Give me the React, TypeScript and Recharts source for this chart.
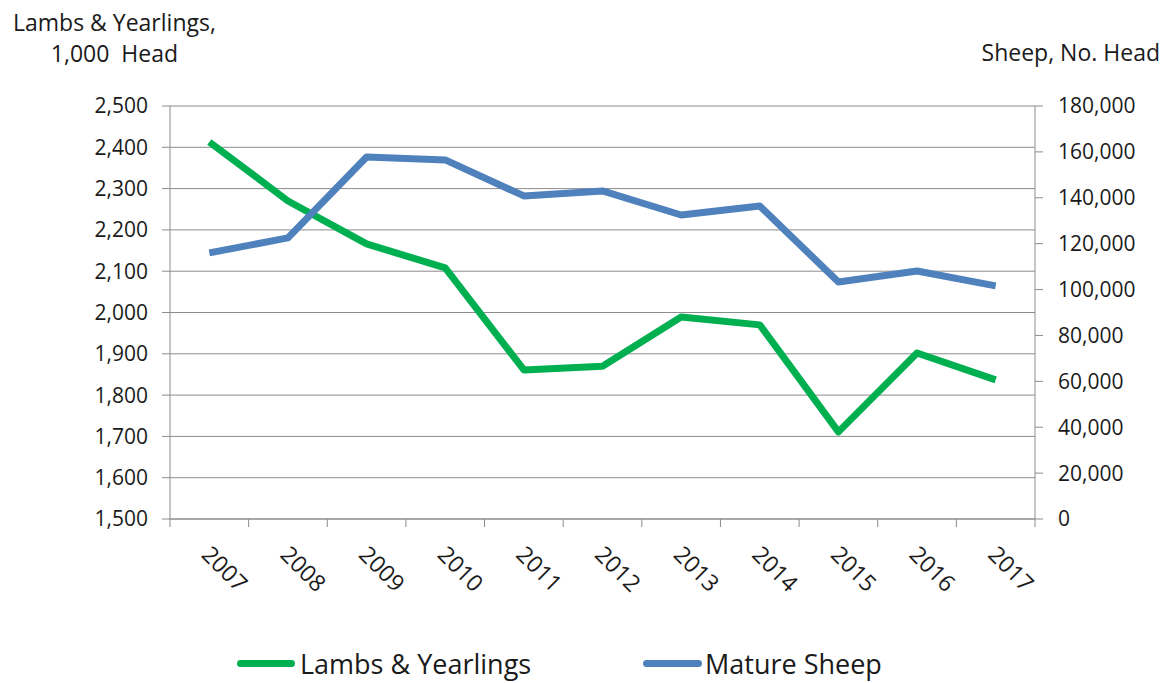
import { CartesianGrid, Line, LineChart, XAxis, YAxis } from "recharts";

const years = ["2007", "2008", "2009", "2010", "2011", "2012", "2013", "2014", "2015", "2016", "2017"];
const lambs = [2413, 2270, 2166, 2108, 1861, 1870, 1989, 1970, 1711, 1902, 1837];
const mature = [116000, 122500, 157800, 156500, 140800, 143000, 132500, 136400, 103300, 108100, 101600];

const leftTicks = [1500, 1600, 1700, 1800, 1900, 2000, 2100, 2200, 2300, 2400, 2500];
const rightTicks = [0, 20000, 40000, 60000, 80000, 100000, 120000, 140000, 160000, 180000];

const data = years.map((year, i) => ({ year, lambs: lambs[i], mature: mature[i] }));

const W = 1163;
const H = 683;
const PLOT_LEFT = 170;
const PLOT_RIGHT = 1035;
const BAND = (PLOT_RIGHT - PLOT_LEFT) / years.length;

const GREEN = "#00B050";
const BLUE = "#4F81BD";
const AXIS = "#8c8c8c";
const INK = "#1a1a1a";
const FONT = "'Open Sans', 'Noto Sans', sans-serif";

const fmt = (v: number) => v.toLocaleString("en-US");

function YearTick(props: any) {
  const { x, y, payload, index } = props;
  const half = BAND / 2;
  const tx = x - 9;
  const ty = y + 37;
  return (
    <g>
      <line x1={x - half} x2={x - half} y1={y} y2={y + 8} stroke={AXIS} />
      {index === years.length - 1 && <line x1={x + half} x2={x + half} y1={y} y2={y + 8} stroke={AXIS} />}
      <text x={tx} y={ty} transform={`rotate(45 ${tx} ${ty})`} textAnchor="start" fill={INK} fontSize={23} fontFamily={FONT}>
        {payload.value}
      </text>
    </g>
  );
}

export default function App() {
  const tickStyle = { fill: INK, fontSize: 21, fontFamily: FONT };
  return (
    <div style={{ position: "absolute", left: 0, top: 0, width: W, height: H, background: "#fff", fontFamily: FONT, color: INK, overflow: "hidden" }}>
      <LineChart width={W} height={H} data={data} margin={{ top: 106, right: 0, left: 0, bottom: 0 }}>
        <CartesianGrid yAxisId="left" vertical={false} stroke={AXIS} horizontalValues={leftTicks} />
        <XAxis
          dataKey="year"
          height={164}
          padding={{ left: BAND / 2, right: BAND / 2 }}
          stroke={AXIS}
          tickLine={false}
          tickSize={0}
          tickMargin={0}
          interval={0}
          tick={<YearTick />}
        />
        <YAxis
          yAxisId="left"
          orientation="left"
          width={PLOT_LEFT}
          domain={[1500, 2500]}
          ticks={leftTicks}
          tickFormatter={fmt}
          stroke={AXIS}
          tickSize={8}
          tickMargin={14}
          tick={tickStyle}
          interval={0}
        />
        <YAxis
          yAxisId="right"
          orientation="right"
          width={W - PLOT_RIGHT}
          domain={[0, 180000]}
          ticks={rightTicks}
          tickFormatter={fmt}
          stroke={AXIS}
          tickSize={8}
          tickMargin={15}
          tick={tickStyle}
          interval={0}
        />
        <Line
          yAxisId="left"
          dataKey="lambs"
          stroke={GREEN}
          strokeWidth={7}
          strokeLinejoin="round"
          dot={false}
          activeDot={false}
          type="linear"
          isAnimationActive={false}
        />
        <Line
          yAxisId="right"
          dataKey="mature"
          stroke={BLUE}
          strokeWidth={7}
          strokeLinejoin="round"
          dot={false}
          activeDot={false}
          type="linear"
          isAnimationActive={false}
        />
      </LineChart>

      <div style={{ position: "absolute", left: 13, top: 7, fontSize: 23, lineHeight: "31px", textAlign: "center" }}>
        Lambs &amp; Yearlings,
        <br />
        1,000&nbsp; Head
      </div>
      <div style={{ position: "absolute", right: 3, top: 37, fontSize: 23, lineHeight: "31px" }}>Sheep, No. Head</div>

      <div style={{ position: "absolute", left: 237, top: 645, height: 37, display: "flex", alignItems: "center", fontSize: 27, lineHeight: "37px" }}>
        <span style={{ width: 58, height: 7, borderRadius: 4, background: GREEN, display: "inline-block", marginRight: 5 }} />
        <span>Lambs &amp; Yearlings</span>
      </div>
      <div style={{ position: "absolute", left: 643, top: 645, height: 37, display: "flex", alignItems: "center", fontSize: 27, lineHeight: "37px" }}>
        <span style={{ width: 59, height: 7, borderRadius: 4, background: BLUE, display: "inline-block", marginRight: 3 }} />
        <span>Mature Sheep</span>
      </div>
    </div>
  );
}
